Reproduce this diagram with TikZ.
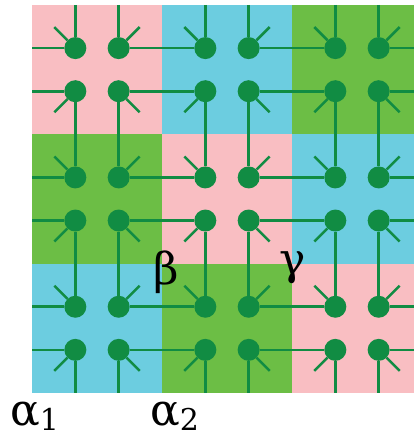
\documentclass[tikz,border=0pt]{standalone}
\usepackage{fontspec}
\setmainfont{Liberation Serif}
\newfontfamily\greekfont{DejaVu Serif}
\definecolor{sqpink}{RGB}{249,190,194}
\definecolor{sqblue}{RGB}{108,205,224}
\definecolor{sqgreen}{RGB}{108,190,69}
\definecolor{dotgreen}{RGB}{17,140,67}
\tikzset{
  dot/.style={circle,fill=dotgreen,draw=none,minimum size=22pt,inner sep=0pt},
  vline/.style={draw=dotgreen,line width=3.4pt},
  hline/.style={draw=dotgreen,line width=2.6pt},
  stub/.style={draw=dotgreen,line width=2.5pt},
  lbl/.style={inner sep=0pt,font=\greekfont\fontsize{44}{44}\selectfont}
}
\begin{document}
\begin{tikzpicture}[x=1pt,y=-1pt]
\useasboundingbox (0,0) rectangle (414,436);
% squares
\foreach \c/\r/\col in {0/0/sqpink,1/0/sqblue,2/0/sqgreen,
                        0/1/sqgreen,1/1/sqpink,2/1/sqblue,
                        0/2/sqblue,1/2/sqgreen,2/2/sqpink}{
  \pgfmathsetmacro\xa{32+130*\c}
  \pgfmathsetmacro\xb{min(32+130*(\c+1),414)}
  \pgfmathsetmacro\ya{5+129.33*\r}
  \pgfmathsetmacro\yb{5+129.33*(\r+1)}
  \fill[\col] (\xa,\ya) rectangle (\xb,\yb);
}
% dots
\foreach \i in {0,...,5}{
  \foreach \j in {0,...,5}{
    \pgfmathsetmacro\px{32+130*int(\i/2)+43.33*(1+mod(\i,2))}
    \pgfmathsetmacro\py{5+129.33*int(\j/2)+43.1*(1+mod(\j,2))}
    \pgfmathsetmacro\sx{mod(\i,2)==0 ? -21 : 21}
    \pgfmathsetmacro\sy{mod(\j,2)==0 ? -21 : 21}
    \node[dot] (d\i\j) at (\px,\py) {};
    \coordinate (s\i\j) at (\px+\sx,\py+\sy);
    \draw[stub] (d\i\j) -- (s\i\j);
  }
}
% border coordinates
\foreach \k in {0,...,5}{
  \pgfmathsetmacro\pk{32+130*int(\k/2)+43.33*(1+mod(\k,2))}
  \pgfmathsetmacro\qk{5+129.33*int(\k/2)+43.1*(1+mod(\k,2))}
  \coordinate (top\k) at (\pk,5);
  \coordinate (bot\k) at (\pk,393);
  \coordinate (lft\k) at (32,\qk);
  \coordinate (rgt\k) at (414,\qk);
}
% horizontal connectors
\foreach \j in {0,...,5}{
  \draw[hline] (lft\j) -- (d0\j);
  \draw[hline] (d1\j) -- (d2\j);
  \draw[hline] (d3\j) -- (d4\j);
  \draw[hline] (d5\j) -- (rgt\j);
}
% vertical connectors
\foreach \i in {0,...,5}{
  \draw[vline] (top\i) -- (d\i0);
  \draw[vline] (d\i1) -- (d\i2);
  \draw[vline] (d\i3) -- (d\i4);
  \draw[vline] (d\i5) -- (bot\i);
}
% labels
\node[lbl,anchor=base west] (a1) at (10,425) {α\raisebox{-5pt}{\fontsize{30}{30}\selectfont 1}};
\node[lbl,anchor=base west] (a2) at (150,425) {α\raisebox{-5pt}{\fontsize{30}{30}\selectfont 2}};
\node[lbl,anchor=base] (b) at (166,284) {β};
\node[lbl,anchor=base] (g) at (293,274) {γ};
\end{tikzpicture}
\end{document}
